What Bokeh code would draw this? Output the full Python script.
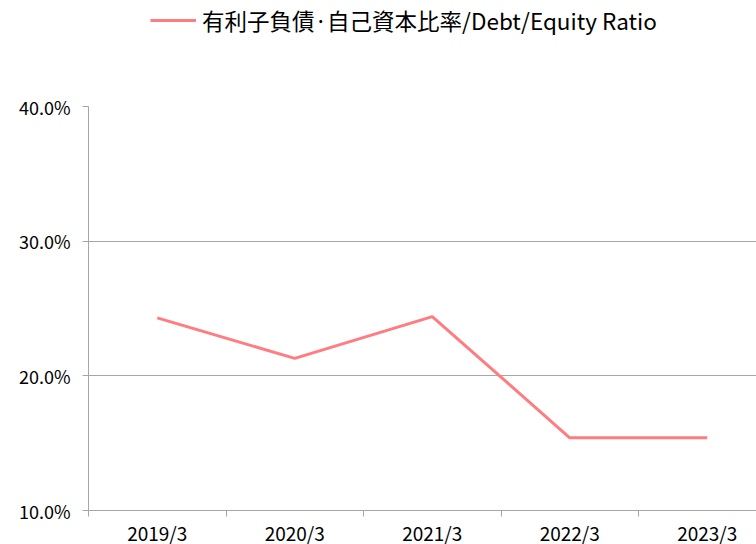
from bokeh.plotting import figure
from bokeh.layouts import column
from bokeh.models import FixedTicker, Legend, LegendItem, Range1d, ColumnDataSource
from bokeh.embed import file_html
from bokeh.resources import INLINE

categories = ["2019/3", "2020/3", "2021/3", "2022/3", "2023/3"]
ratio = [24.3, 21.3, 24.4, 15.4, 15.4]
y_ticks = [10, 20, 30, 40]
series_name = "有利子負債·自己資本比率/Debt/Equity Ratio"

FONT = "Noto Sans CJK JP"
GRID = "#A6A6A6"
LINE = "#FF7C80"

xs = list(range(len(categories)))
src = ColumnDataSource(dict(x=xs, y=ratio))

# ---- legend strip (own small figure so nothing is clipped) ----
pl = figure(width=756, height=40, output_backend="svg", toolbar_location=None,
            x_range=Range1d(-100, -99), y_range=Range1d(-100, -99),
            x_axis_location=None, y_axis_location=None, min_border=0)
pl.outline_line_color = None
pl.xgrid.grid_line_color = None
pl.ygrid.grid_line_color = None
# same series, drawn out of this strip's view; only its legend sample shows
r_leg = pl.line("x", "y", source=src, line_color=LINE, line_width=3)
legend = Legend(items=[LegendItem(label=series_name, renderers=[r_leg])],
                location="center_left", orientation="horizontal",
                border_line_color=None, background_fill_alpha=0,
                label_text_font=FONT, label_text_font_size="22.5px",
                label_text_color="black", glyph_width=46, label_standoff=6,
                padding=0, margin=62, spacing=0)
pl.add_layout(legend, "center")

# ---- main chart ----
p = figure(frame_width=668, frame_height=404, output_backend="svg", toolbar_location=None,
           x_range=Range1d(-0.5, 4.358), y_range=Range1d(10, 40),
           min_border_left=88, min_border_right=0, min_border_top=66, min_border_bottom=0)
p.outline_line_color = None
p.background_fill_color = "white"
p.border_fill_color = "white"

p.line("x", "y", source=src, line_color=LINE, line_width=3)

# x axis
p.xaxis.ticker = FixedTicker(ticks=xs, minor_ticks=[i - 0.5 for i in xs])
p.xaxis.major_label_overrides = {i: c for i, c in enumerate(categories)}
p.xaxis.major_tick_line_color = None
p.xaxis.major_tick_out = 0
p.xaxis.major_tick_in = 0
p.xaxis.minor_tick_line_color = GRID
p.xaxis.minor_tick_out = 6
p.xaxis.minor_tick_in = 0
p.xaxis.axis_line_color = GRID
p.xaxis.major_label_text_font = FONT
p.xaxis.major_label_text_font_size = "19px"
p.xaxis.major_label_text_color = "black"
p.xaxis.major_label_standoff = 2
p.xgrid.grid_line_color = None

# y axis
p.yaxis.ticker = FixedTicker(ticks=y_ticks, minor_ticks=[])
p.yaxis.major_label_overrides = {t: f"{t:.1f}%" for t in y_ticks}
p.yaxis.major_tick_line_color = GRID
p.yaxis.major_tick_out = 6
p.yaxis.major_tick_in = 0
p.yaxis.axis_line_color = GRID
p.yaxis.major_label_text_font = FONT
p.yaxis.major_label_text_font_size = "18px"
p.yaxis.major_label_text_color = "black"
p.yaxis.major_label_standoff = 12
p.ygrid.grid_line_color = GRID
p.ygrid.grid_line_width = 1

layout = column(pl, p, spacing=0)
open("out.html", "w").write(file_html(layout, INLINE))
